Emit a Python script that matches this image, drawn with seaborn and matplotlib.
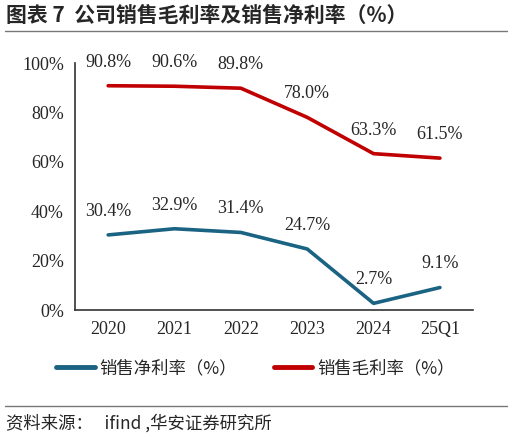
import pandas as pd
import matplotlib.pyplot as plt
import seaborn as sns
from matplotlib.lines import Line2D

periods = ['2020', '2021', '2022', '2023', '2024', '25Q1']
net_margin = [30.4, 32.9, 31.4, 24.7, 2.7, 9.1]
gross_margin = [90.8, 90.6, 89.8, 78.0, 63.3, 61.5]
net_name = '销售净利率（%）'
gross_name = '销售毛利率（%）'

df = pd.DataFrame({'period': periods, net_name: net_margin, gross_name: gross_margin})
long = df.melt(id_vars='period', var_name='series', value_name='value')

sns.set_style('white')
plt.rcParams['font.family'] = ['Liberation Serif', 'Noto Sans CJK SC']
cjk = ['Noto Sans CJK SC', 'DejaVu Sans']

fig = plt.figure(figsize=(5.12, 4.37), dpi=100)
ax = fig.add_axes([0.1465, 0.2906, 0.924 - 0.1465, 0.8558 - 0.2906])

colors = {net_name: '#1b6383', gross_name: '#c00000'}
sns.lineplot(data=long, x='period', y='value', hue='series', palette=colors,
             linewidth=2.6, ax=ax, legend=False, sort=False)

# value labels above each point
for series in (net_margin, gross_margin):
    for i, v in enumerate(series):
        ax.annotate(f'{v:.1f}%', (i, v), xytext=(0, 17), textcoords='offset points',
                    ha='center', va='center', fontsize=13)

ax.set_xlim(-0.5, 5.5)
ax.set_ylim(0, 100)
ax.set_yticks(range(0, 101, 20))
ax.set_yticklabels([f'{t}%' for t in range(0, 101, 20)], fontsize=13)
ax.set_xticks([i - 0.5 for i in range(7)])
ax.set_xticklabels([])
ax.set_xticks(range(6), minor=True)
ax.set_xticklabels(periods, minor=True, fontsize=13)
ax.tick_params(axis='x', which='minor', length=0, pad=8)
ax.tick_params(axis='x', which='major', direction='out', length=4, color='#333333')
ax.tick_params(axis='y', direction='out', length=4, color='#333333', pad=4)
ax.set_xlabel('')
ax.set_ylabel('')
for s in ['top', 'right']:
    ax.spines[s].set_visible(False)
for s in ['left', 'bottom']:
    ax.spines[s].set_color('#333333')
    ax.spines[s].set_linewidth(1.2)

handles = [Line2D([], [], color=colors[net_name], lw=3.5, solid_capstyle='round'),
           Line2D([], [], color=colors[gross_name], lw=3.5, solid_capstyle='round')]
fig.legend(handles, [net_name, gross_name], loc='center', bbox_to_anchor=(0.499, 0.157),
           ncol=2, frameon=False, handlelength=2.2, handletextpad=0.3, columnspacing=2.1,
           prop={'family': cjk, 'size': 12.5})

fig.text(0.012, 0.965, '图表 7  公司销售毛利率及销售净利率（%）', fontsize=15,
         fontweight='bold', family=cjk, va='center')
fig.add_artist(Line2D([0.01, 0.99], [0.93, 0.93], color='#777777', lw=1))
fig.add_artist(Line2D([0.01, 0.99], [0.071, 0.071], color='#777777', lw=1))
fig.text(0.012, 0.032, '资料来源：   ifind ,华安证券研究所', fontsize=12.5, family=cjk, va='center')

fig.savefig('out.png', dpi=100)
